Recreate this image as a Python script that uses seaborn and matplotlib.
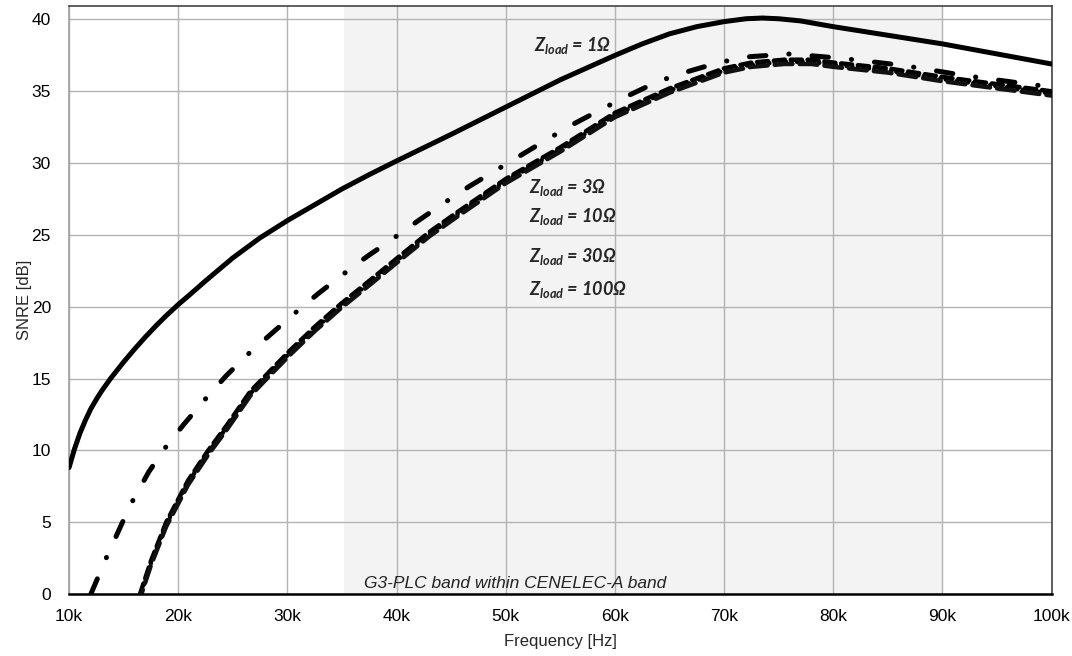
import matplotlib
matplotlib.use('Agg')
import matplotlib.pyplot as plt
import seaborn as sns
import numpy as np
import pandas as pd

# Datos (frecuencia en kHz, SNRE en dB)
f_1ohm = [10, 10.5, 11, 11.5, 12, 12.5, 13, 13.8, 15, 16, 17, 18, 19, 20, 21, 22.5, 25, 27.5, 30,
          32.5, 35, 37.5, 40, 45, 50, 55, 60, 62.5, 65, 67.5, 70, 72, 73.5, 75, 77, 80, 85, 90, 95, 100]
snre_1ohm = [8.8, 10.1, 11.2, 12.1, 12.9, 13.55, 14.15, 15.0, 16.15, 17.05, 17.9, 18.7, 19.45, 20.15,
             20.8, 21.8, 23.4, 24.8, 26.0, 27.1, 28.2, 29.2, 30.15, 32.0, 33.9, 35.8, 37.5, 38.3,
             39.0, 39.5, 39.85, 40.05, 40.1, 40.05, 39.9, 39.5, 38.9, 38.3, 37.6, 36.9]

f_3ohm = [12.0, 13.46, 14.9, 15.84, 17.3, 18.83, 20.5, 22.4, 24.4, 26.4, 28.5, 30.6, 32.8, 35, 37.3,
          39.6, 42, 44.3, 46.7, 49.1, 51.5, 53.9, 56.4, 58.9, 61.5, 64, 66.8, 69.5, 72.2, 76, 80.7,
          86.4, 92, 97.8, 100]
snre_3ohm = [0, 2.6, 5.0, 6.5, 8.5, 10.2, 11.8, 13.5, 15.2, 16.7, 18.1, 19.5, 20.9, 22.2, 23.5,
             24.7, 26.0, 27.2, 28.4, 29.5, 30.6, 31.7, 32.8, 33.8, 34.8, 35.7, 36.4, 37.0, 37.4,
             37.6, 37.3, 36.8, 36.1, 35.5, 35.3]

f_low = [16.5, 17.5, 18.9, 20.9, 22.75, 24.5, 26.6, 28.5, 30.3, 32.5, 34.9, 37.5, 40.4, 43, 45.6,
         50, 55, 60, 65, 70, 72.5, 75.5, 78, 80, 85, 90, 95, 100]
snre_10ohm = [0, 2.3, 5.0, 7.9, 10.0, 11.8, 14.1, 15.6, 17.0, 18.6, 20.2, 21.8, 23.6, 25.2, 26.6,
              28.9, 31.1, 33.5, 35.2, 36.6, 37.0, 37.2, 37.2, 37.0, 36.6, 36.0, 35.5, 35.0]
snre_30ohm = [v - 0.15 for v in snre_10ohm]
snre_100ohm = [v - 0.3 for v in snre_10ohm]

xticks = [10, 20, 30, 40, 50, 60, 70, 80, 90, 100]
xtick_labels = ['10k', '20k', '30k', '40k', '50k', '60k', '70k', '80k', '90k', '100k']
yticks = [0, 5, 10, 15, 20, 25, 30, 35, 40]
banda = (35.2, 90)

etiquetas = [('1', 52.6, 38.2), ('3', 52.1, 28.3), ('10', 52.1, 26.25),
             ('30', 52.1, 23.5), ('100', 52.1, 21.2)]

sns.set_theme(style='whitegrid')
plt.rcParams['font.family'] = ['Liberation Sans', 'DejaVu Sans']
plt.rcParams['mathtext.fontset'] = 'custom'
plt.rcParams['mathtext.it'] = 'Lato:italic:bold'
plt.rcParams['mathtext.rm'] = 'Lato:bold'
plt.rcParams['mathtext.bf'] = 'Lato:bold'

fig = plt.figure(figsize=(10.72, 6.56), dpi=100)
ax = fig.add_axes([0.0644, 0.0945, 0.9166, 0.8964])
ax.set_facecolor('white')

ax.axvspan(banda[0], banda[1], color='#f3f3f3', zorder=0, lw=0)

lw = 3.6
sns.lineplot(x=f_1ohm, y=snre_1ohm, ax=ax, color='black', lw=lw, sort=False,
             solid_capstyle='round', solid_joinstyle='round', zorder=5)
sns.lineplot(x=f_3ohm, y=snre_3ohm, ax=ax, color='black', lw=lw, sort=False,
             linestyle=(0, (3.3, 4.6, 0.05, 4.6)), dash_capstyle='round', zorder=5)
sns.lineplot(x=f_low, y=snre_10ohm, ax=ax, color='black', lw=3.2, sort=False,
             linestyle=(0, (2.5, 1.3)), dash_capstyle='round', zorder=5)
sns.lineplot(x=f_low, y=snre_30ohm, ax=ax, color='black', lw=3.2, sort=False,
             linestyle=(1, (0.05, 1.2)), dash_capstyle='round', zorder=5)
sns.lineplot(x=f_low, y=snre_100ohm, ax=ax, color='#111111', lw=3.2, sort=False,
             linestyle=(2, (4.0, 1.6)), dash_capstyle='round', zorder=5)

for z, x, y in etiquetas:
    ax.text(x, y, r'$Z_{load}$ = ' + z + 'Ω', fontsize=13, fontweight='bold', style='italic',
            family='Lato', va='center', ha='left', zorder=6)

ax.text(50.9, 0.75, 'G3-PLC band within CENELEC-A band', fontsize=12.5, style='italic',
        ha='center', va='center', color='#222222', zorder=6)

ax.set_xlim(10, 100)
ax.set_ylim(0, 40.94)
ax.set_xticks(xticks)
ax.set_xticklabels(xtick_labels)
ax.set_yticks(yticks)
ax.tick_params(axis='x', labelsize=12.5, colors='black', length=0, pad=11)
ax.tick_params(axis='y', labelsize=12.5, colors='black', length=0, pad=13)
ax.grid(True, color='#b3b3b3', lw=1)
ax.set_xlabel('Frequency [Hz]', fontsize=12)
ax.set_ylabel('SNRE [dB]', fontsize=12)
ax.xaxis.set_label_coords(0.5, -0.068)
ax.yaxis.set_label_coords(-0.038, 0.5)

for s in ['top', 'right', 'left']:
    ax.spines[s].set_color('#444444')
    ax.spines[s].set_linewidth(1.2)
ax.spines['bottom'].set_color('black')
ax.spines['bottom'].set_linewidth(1.8)
ax.spines['left'].set_color('#a0a0a0')

plt.savefig('out.png', dpi=100)
